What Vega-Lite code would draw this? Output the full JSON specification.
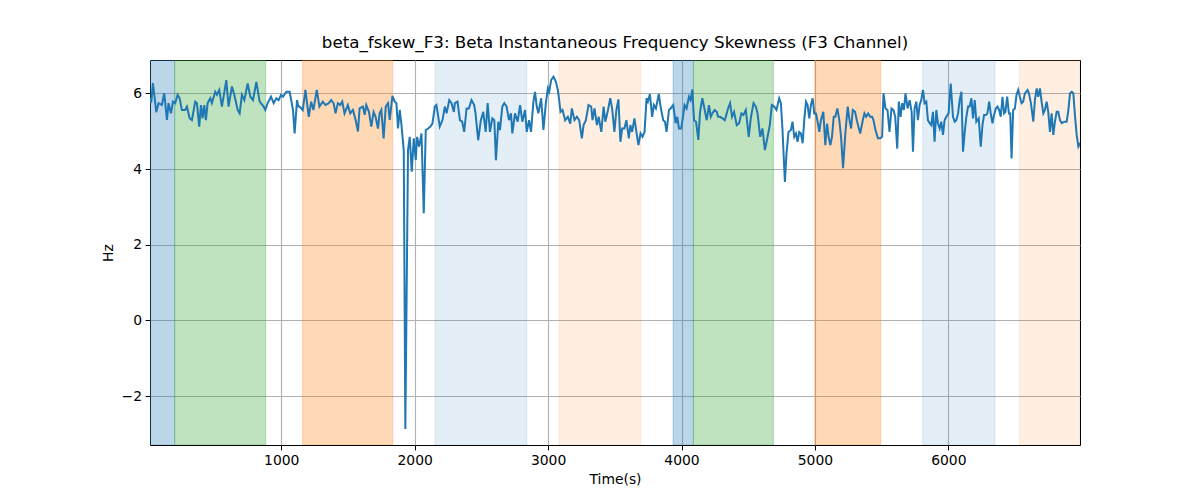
{
  "$schema": "https://vega.github.io/schema/vega-lite/v6.json",
  "width": 930,
  "height": 385,
  "autosize": {"type": "none"},
  "padding": {"left": 150, "top": 60, "right": 120, "bottom": 55},
  "background": "white",
  "config": {
    "font": "DejaVu Sans",
    "view": {"stroke": "black", "strokeWidth": 1},
    "axis": {
      "labelFont": "DejaVu Sans", "titleFont": "DejaVu Sans",
      "labelFontSize": 13.9, "titleFontSize": 13.9, "titleFontWeight": "normal",
      "labelColor": "black", "titleColor": "black",
      "tickColor": "black", "tickSize": 4.9, "tickWidth": 1,
      "domain": false, "labelPadding": 3.5,
      "grid": true, "gridColor": "#b0b0b0", "gridWidth": 1.1
    }
  },
  "title": {
    "text": "beta_fskew_F3: Beta Instantaneous Frequency Skewness (F3 Channel)",
    "fontSize": 16.7, "fontWeight": "normal", "font": "DejaVu Sans",
    "color": "black", "offset": 8, "anchor": "middle"
  },
  "datasets": {
    "bands": [
      {"start": 16, "end": 201, "cat": "a"},
      {"start": 201, "end": 883, "cat": "b"},
      {"start": 1160, "end": 1835, "cat": "c"},
      {"start": 2152, "end": 2840, "cat": "d"},
      {"start": 3082, "end": 3694, "cat": "e"},
      {"start": 3937, "end": 4089, "cat": "a"},
      {"start": 4089, "end": 4689, "cat": "b"},
      {"start": 4999, "end": 5493, "cat": "c"},
      {"start": 5808, "end": 6350, "cat": "d"},
      {"start": 6531, "end": 6987, "cat": "e"}
    ],
    "series": [
      {"t":10,"v":5.9},{"t":25,"v":5.75},{"t":38,"v":6.27},{"t":63,"v":5.5},{"t":80,"v":5.74},{"t":105,"v":5.69},{"t":123,"v":6.0},{"t":143,"v":5.3},{"t":155,"v":5.74},{"t":173,"v":5.47},{"t":188,"v":5.78},{"t":205,"v":5.74},{"t":223,"v":5.96},{"t":238,"v":5.87},{"t":255,"v":5.56},{"t":280,"v":5.56},{"t":293,"v":5.65},{"t":313,"v":5.34},{"t":330,"v":5.29},{"t":355,"v":5.78},{"t":368,"v":5.74},{"t":385,"v":5.12},{"t":398,"v":5.69},{"t":410,"v":5.34},{"t":423,"v":5.69},{"t":435,"v":5.29},{"t":448,"v":5.74},{"t":468,"v":5.87},{"t":480,"v":5.74},{"t":505,"v":6.04},{"t":518,"v":5.96},{"t":535,"v":6.09},{"t":555,"v":5.65},{"t":588,"v":6.35},{"t":605,"v":5.65},{"t":630,"v":6.18},{"t":648,"v":5.96},{"t":673,"v":5.56},{"t":688,"v":5.47},{"t":705,"v":5.96},{"t":723,"v":5.82},{"t":748,"v":6.26},{"t":768,"v":5.91},{"t":788,"v":5.82},{"t":813,"v":6.3},{"t":838,"v":5.78},{"t":868,"v":5.65},{"t":880,"v":5.56},{"t":898,"v":5.74},{"t":923,"v":5.91},{"t":943,"v":5.74},{"t":963,"v":5.87},{"t":980,"v":5.82},{"t":998,"v":5.96},{"t":1013,"v":5.91},{"t":1038,"v":6.04},{"t":1063,"v":6.04},{"t":1088,"v":5.56},{"t":1100,"v":4.94},{"t":1118,"v":5.82},{"t":1128,"v":5.65},
      {"t":1136,"v":5.65},{"t":1161,"v":5.56},{"t":1181,"v":6.09},{"t":1206,"v":5.38},{"t":1224,"v":5.78},{"t":1241,"v":5.56},{"t":1266,"v":6.09},{"t":1286,"v":5.65},{"t":1311,"v":5.78},{"t":1331,"v":5.69},{"t":1356,"v":5.74},{"t":1374,"v":5.82},{"t":1392,"v":5.74},{"t":1407,"v":5.47},{"t":1424,"v":5.74},{"t":1442,"v":5.69},{"t":1457,"v":5.78},{"t":1474,"v":5.47},{"t":1499,"v":5.69},{"t":1517,"v":5.47},{"t":1537,"v":5.56},{"t":1557,"v":5.3},{"t":1575,"v":4.99},{"t":1587,"v":5.6},{"t":1612,"v":5.65},{"t":1625,"v":5.43},{"t":1637,"v":5.69},{"t":1657,"v":5.51},{"t":1675,"v":5.12},{"t":1692,"v":5.51},{"t":1707,"v":5.38},{"t":1725,"v":5.07},{"t":1737,"v":5.47},{"t":1750,"v":5.56},{"t":1767,"v":4.81},{"t":1783,"v":5.65},{"t":1800,"v":5.74},{"t":1813,"v":5.3},{"t":1833,"v":5.93},{"t":1850,"v":5.78},{"t":1863,"v":5.74},{"t":1875,"v":5.07},{"t":1888,"v":5.56},{"t":1900,"v":5.2},{"t":1918,"v":4.5},{"t":1930,"v":-2.87},{"t":1950,"v":4.5},{"t":1963,"v":4.85},{"t":1978,"v":3.93},{"t":1993,"v":4.81},{"t":2008,"v":4.24},{"t":2018,"v":4.85},{"t":2033,"v":4.59},{"t":2051,"v":4.94},{"t":2068,"v":2.83},{"t":2083,"v":5.03},{"t":2101,"v":5.07},{"t":2118,"v":5.12},{"t":2133,"v":5.2},{"t":2151,"v":5.65},{"t":2163,"v":5.69},{"t":2188,"v":5.12},{"t":2209,"v":5.3},{"t":2226,"v":5.65},{"t":2239,"v":5.47},{"t":2259,"v":5.82},{"t":2276,"v":5.74},{"t":2294,"v":5.51},
      {"t":2301,"v":5.74},{"t":2321,"v":5.78},{"t":2339,"v":5.29},{"t":2356,"v":5.25},{"t":2371,"v":4.98},{"t":2389,"v":5.6},{"t":2406,"v":5.6},{"t":2426,"v":5.82},{"t":2446,"v":5.69},{"t":2456,"v":5.47},{"t":2476,"v":4.76},{"t":2496,"v":5.29},{"t":2514,"v":5.51},{"t":2532,"v":4.98},{"t":2547,"v":5.74},{"t":2564,"v":4.98},{"t":2582,"v":5.34},{"t":2597,"v":5.29},{"t":2609,"v":4.23},{"t":2627,"v":5.25},{"t":2639,"v":5.03},{"t":2657,"v":5.65},{"t":2672,"v":5.74},{"t":2689,"v":5.65},{"t":2707,"v":5.29},{"t":2722,"v":5.47},{"t":2732,"v":4.94},{"t":2752,"v":5.47},{"t":2772,"v":5.25},{"t":2790,"v":5.69},{"t":2807,"v":5.25},{"t":2827,"v":5.56},{"t":2840,"v":4.98},{"t":2857,"v":5.29},{"t":2872,"v":4.98},{"t":2890,"v":5.78},{"t":2902,"v":6.04},{"t":2915,"v":5.65},{"t":2927,"v":5.47},{"t":2948,"v":5.87},{"t":2965,"v":5.03},{"t":2983,"v":5.74},{"t":2998,"v":6.13},{"t":3008,"v":6.04},{"t":3023,"v":6.35},{"t":3040,"v":6.44},{"t":3058,"v":6.31},{"t":3073,"v":6.09},{"t":3083,"v":5.82},{"t":3093,"v":5.51},{"t":3108,"v":5.56},{"t":3128,"v":5.29},{"t":3148,"v":5.38},{"t":3166,"v":5.2},{"t":3178,"v":5.6},{"t":3198,"v":5.29},{"t":3216,"v":5.38},{"t":3233,"v":5.29},{"t":3253,"v":4.81},{"t":3266,"v":5.16},{"t":3283,"v":5.29},{"t":3303,"v":5.69},{"t":3323,"v":5.65},{"t":3333,"v":5.29},{"t":3348,"v":5.6},{"t":3366,"v":5.16},{"t":3379,"v":5.38},{"t":3399,"v":4.98},{"t":3416,"v":5.65},{"t":3429,"v":5.25},{"t":3449,"v":5.56},{"t":3466,"v":5.87},
      {"t":3480,"v":5.6},{"t":3497,"v":4.98},{"t":3512,"v":5.56},{"t":3527,"v":5.84},{"t":3542,"v":4.72},{"t":3555,"v":5.07},{"t":3572,"v":5.07},{"t":3587,"v":5.29},{"t":3605,"v":4.81},{"t":3617,"v":5.16},{"t":3630,"v":4.98},{"t":3647,"v":5.34},{"t":3662,"v":4.98},{"t":3677,"v":4.63},{"t":3693,"v":4.94},{"t":3708,"v":4.85},{"t":3723,"v":4.98},{"t":3738,"v":5.87},{"t":3748,"v":5.78},{"t":3763,"v":5.98},{"t":3780,"v":5.38},{"t":3793,"v":5.69},{"t":3808,"v":5.6},{"t":3830,"v":5.98},{"t":3843,"v":5.65},{"t":3863,"v":5.29},{"t":3876,"v":5.25},{"t":3888,"v":4.98},{"t":3906,"v":5.56},{"t":3918,"v":5.6},{"t":3938,"v":5.69},{"t":3956,"v":5.21},{"t":3968,"v":5.38},{"t":3981,"v":5.07},{"t":3998,"v":5.07},{"t":4013,"v":5.43},{"t":4023,"v":5.69},{"t":4038,"v":5.6},{"t":4056,"v":5.91},{"t":4068,"v":5.82},{"t":4081,"v":6.1},{"t":4094,"v":5.29},{"t":4109,"v":5.25},{"t":4126,"v":4.77},{"t":4139,"v":5.51},{"t":4156,"v":5.87},{"t":4174,"v":5.56},{"t":4189,"v":5.29},{"t":4206,"v":5.69},{"t":4219,"v":5.38},{"t":4231,"v":5.47},{"t":4249,"v":5.56},{"t":4264,"v":5.51},{"t":4274,"v":5.38},{"t":4289,"v":5.38},{"t":4307,"v":5.34},{"t":4324,"v":5.29},{"t":4339,"v":5.47},{"t":4349,"v":5.6},{"t":4364,"v":5.74},{"t":4379,"v":5.38},{"t":4394,"v":5.51},{"t":4414,"v":5.16},{"t":4432,"v":5.21},{"t":4449,"v":5.47},{"t":4464,"v":5.43},{"t":4482,"v":5.56},{"t":4489,"v":5.34},{"t":4504,"v":4.85},{"t":4519,"v":5.34},{"t":4540,"v":5.74},{"t":4557,"v":5.65},{"t":4570,"v":5.47},{"t":4590,"v":4.85},{"t":4607,"v":5.07},{"t":4625,"v":4.5},
      {"t":4645,"v":4.85},{"t":4662,"v":5.16},{"t":4677,"v":5.69},{"t":4695,"v":5.65},{"t":4712,"v":5.56},{"t":4732,"v":5.87},{"t":4745,"v":5.74},{"t":4757,"v":5.03},{"t":4775,"v":3.66},{"t":4787,"v":4.41},{"t":4802,"v":4.98},{"t":4820,"v":5.03},{"t":4832,"v":5.25},{"t":4845,"v":4.85},{"t":4858,"v":4.94},{"t":4870,"v":4.72},{"t":4883,"v":4.98},{"t":4895,"v":4.94},{"t":4908,"v":4.68},{"t":4920,"v":5.29},{"t":4933,"v":5.78},{"t":4945,"v":5.69},{"t":4958,"v":5.34},{"t":4970,"v":5.69},{"t":4983,"v":5.87},{"t":4995,"v":5.47},{"t":5008,"v":5.47},{"t":5020,"v":5.25},{"t":5033,"v":4.98},{"t":5045,"v":5.29},{"t":5063,"v":5.51},{"t":5078,"v":4.63},{"t":5091,"v":5.2},{"t":5103,"v":4.85},{"t":5116,"v":4.63},{"t":5128,"v":4.85},{"t":5141,"v":5.38},{"t":5153,"v":5.38},{"t":5168,"v":5.6},{"t":5183,"v":5.29},{"t":5196,"v":4.85},{"t":5211,"v":4.02},{"t":5228,"v":4.94},{"t":5246,"v":5.65},{"t":5259,"v":5.29},{"t":5271,"v":5.07},{"t":5284,"v":5.56},{"t":5301,"v":5.51},{"t":5314,"v":5.29},{"t":5326,"v":5.12},{"t":5339,"v":4.94},{"t":5359,"v":5.29},{"t":5371,"v":5.47},{"t":5384,"v":5.38},{"t":5399,"v":5.47},{"t":5414,"v":5.38},{"t":5429,"v":5.38},{"t":5439,"v":5.29},{"t":5454,"v":5.03},{"t":5472,"v":4.81},{"t":5489,"v":4.81},{"t":5504,"v":4.85},{"t":5514,"v":6.0},{"t":5529,"v":5.6},{"t":5544,"v":5.56},{"t":5559,"v":4.98},{"t":5574,"v":5.6},{"t":5589,"v":5.56},{"t":5602,"v":5.38},{"t":5617,"v":4.54},{"t":5629,"v":5.78},{"t":5642,"v":5.38},{"t":5654,"v":5.74},{"t":5667,"v":5.56},{"t":5679,"v":6.0},{"t":5695,"v":5.6},{"t":5710,"v":5.82},{"t":5725,"v":5.51},{"t":5735,"v":4.46},{"t":5747,"v":5.6},{"t":5760,"v":5.78},{"t":5772,"v":5.29},{"t":5785,"v":5.69},{"t":5797,"v":5.82},{"t":5810,"v":6.09},
      {"t":5822,"v":5.74},{"t":5835,"v":5.78},{"t":5847,"v":5.29},{"t":5860,"v":5.21},{"t":5872,"v":5.16},{"t":5885,"v":5.51},{"t":5897,"v":4.72},{"t":5910,"v":5.56},{"t":5922,"v":5.21},{"t":5935,"v":5.07},{"t":5947,"v":5.25},{"t":5960,"v":4.9},{"t":5972,"v":5.29},{"t":5985,"v":5.38},{"t":6002,"v":5.47},{"t":6018,"v":6.26},{"t":6035,"v":5.38},{"t":6048,"v":5.25},{"t":6060,"v":5.29},{"t":6073,"v":5.47},{"t":6085,"v":5.82},{"t":6098,"v":6.04},{"t":6110,"v":4.46},{"t":6123,"v":4.98},{"t":6135,"v":5.38},{"t":6148,"v":5.65},{"t":6160,"v":5.65},{"t":6173,"v":5.87},{"t":6185,"v":5.34},{"t":6198,"v":5.82},{"t":6210,"v":5.25},{"t":6228,"v":5.34},{"t":6243,"v":4.59},{"t":6256,"v":5.16},{"t":6268,"v":5.43},{"t":6281,"v":5.43},{"t":6293,"v":5.47},{"t":6306,"v":5.78},{"t":6318,"v":5.47},{"t":6331,"v":5.21},{"t":6343,"v":5.43},{"t":6356,"v":5.6},{"t":6368,"v":5.65},{"t":6381,"v":5.56},{"t":6393,"v":5.38},{"t":6406,"v":5.91},{"t":6418,"v":5.47},{"t":6428,"v":5.51},{"t":6441,"v":5.91},{"t":6454,"v":5.47},{"t":6464,"v":5.47},{"t":6474,"v":4.28},{"t":6486,"v":5.56},{"t":6499,"v":5.6},{"t":6511,"v":5.96},{"t":6524,"v":6.09},{"t":6536,"v":5.91},{"t":6549,"v":5.74},{"t":6561,"v":5.78},{"t":6574,"v":6.0},{"t":6594,"v":6.09},{"t":6604,"v":6.0},{"t":6619,"v":5.74},{"t":6637,"v":5.25},{"t":6649,"v":5.82},{"t":6662,"v":6.13},{"t":6674,"v":5.91},{"t":6687,"v":6.13},{"t":6699,"v":5.78},{"t":6712,"v":5.47},{"t":6724,"v":5.56},{"t":6737,"v":5.78},{"t":6749,"v":5.51},{"t":6762,"v":4.98},{"t":6774,"v":5.47},{"t":6787,"v":4.9},{"t":6799,"v":5.25},{"t":6812,"v":5.51},{"t":6824,"v":5.51},{"t":6837,"v":5.29},{"t":6850,"v":5.21},{"t":6870,"v":5.25},{"t":6887,"v":5.25},{"t":6900,"v":5.56},{"t":6912,"v":6.0},{"t":6925,"v":6.04},{"t":6937,"v":6.0},{"t":6950,"v":5.38},{"t":6962,"v":4.9},{"t":6975,"v":4.59},{"t":6995,"v":4.72},{"t":7007,"v":4.9}
    ]
  },
  "layer": [
    {
      "data": {"name": "bands"},
      "transform": [{"filter": "datum.cat === 'a' || datum.cat === 'b' || datum.cat === 'c'"}],
      "mark": {"type": "rect", "strokeWidth": 1, "clip": true, "fillOpacity": 0.3, "strokeOpacity": 0.3},
      "encoding": {
        "x": {"field": "start", "type": "quantitative", "scale": {"domain": [16, 6987], "nice": false, "zero": false},
              "axis": {"title": "Time(s)", "values": [1000, 2000, 3000, 4000, 5000, 6000], "format": "d", "titlePadding": 5}},
        "x2": {"field": "end"},
        "y": {"value": 0},
        "y2": {"value": 385},
        "fill": {"field": "cat", "type": "nominal", "legend": null,
                 "scale": {"domain": ["a", "b", "c", "d", "e"], "range": ["#1f77b4", "#2ca02c", "#ff7f0e", "#1f77b4", "#ff7f0e"]}},
        "stroke": {"field": "cat", "type": "nominal", "legend": null,
                 "scale": {"domain": ["a", "b", "c", "d", "e"], "range": ["#1f77b4", "#2ca02c", "#ff7f0e", "#1f77b4", "#ff7f0e"]}}
      }
    },
    {
      "data": {"name": "bands"},
      "transform": [{"filter": "datum.cat === 'd' || datum.cat === 'e'"}],
      "mark": {"type": "rect", "strokeWidth": 1, "clip": true, "fillOpacity": 0.12, "strokeOpacity": 0.12},
      "encoding": {
        "x": {"field": "start", "type": "quantitative"},
        "x2": {"field": "end"},
        "y": {"value": 0},
        "y2": {"value": 385},
        "fill": {"field": "cat", "type": "nominal", "legend": null},
        "stroke": {"field": "cat", "type": "nominal", "legend": null}
      }
    },
    {
      "data": {"name": "series"},
      "mark": {"type": "line", "color": "#1f77b4", "strokeWidth": 2, "clip": true},
      "encoding": {
        "x": {"field": "t", "type": "quantitative"},
        "y": {"field": "v", "type": "quantitative", "scale": {"domain": [-3.29, 6.88], "nice": false, "zero": false},
              "axis": {"title": "Hz", "values": [-2, 0, 2, 4, 6], "titlePadding": 6}}
      }
    }
  ]
}
